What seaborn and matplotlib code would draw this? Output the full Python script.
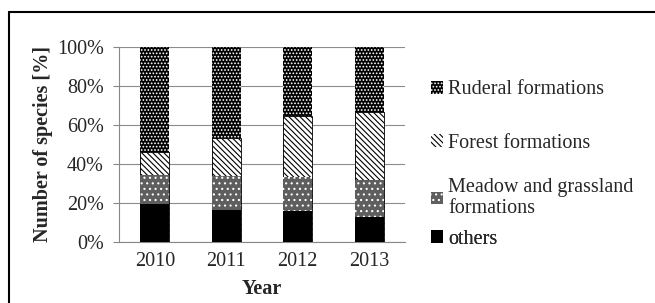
import matplotlib
matplotlib.use('Agg')
import matplotlib.pyplot as plt
from matplotlib.patches import Patch
from matplotlib.lines import Line2D
import seaborn as sns
import pandas as pd

# Values (% of species per year)
years = ['2010', '2011', '2012', '2013']
others = [19.5, 16.5, 16, 13]
meadow = [15, 17.5, 17.5, 19]
forest = [11.5, 19.5, 31, 34.5]
ruderal = [54, 46.5, 35.5, 33.5]

layer_names = ['others', 'Meadow and grassland\nformations', 'Forest formations', 'Ruderal formations']

df = pd.DataFrame({'Year': years,
                   layer_names[0]: others,
                   layer_names[1]: meadow,
                   layer_names[2]: forest,
                   layer_names[3]: ruderal})
cum = df[layer_names].cumsum(axis=1)

sns.set_style('white')
plt.rcParams['font.family'] = ['Liberation Serif', 'DejaVu Serif']
plt.rcParams['hatch.linewidth'] = 0.8

# fill styles per layer: facecolor, edgecolor (= hatch colour), hatch, outline width
styles = {
    layer_names[0]: dict(facecolor='black', edgecolor='black', hatch=None, lw=0),
    layer_names[1]: dict(facecolor='#5e5e5e', edgecolor='white', hatch='...', lw=0),
    layer_names[2]: dict(facecolor='white', edgecolor='black', hatch='\\\\\\\\\\\\', lw=0.6),
    layer_names[3]: dict(facecolor='black', edgecolor='white', hatch='.....', lw=0),
}

fig = plt.figure(figsize=(6.55, 3.03), dpi=100)
ax = fig.add_axes([119 / 655, 1 - 242 / 303, 286 / 655, 195 / 303])

# draw the tallest cumulative layer first, smaller ones on top
for name in reversed(layer_names):
    n = len(ax.patches)
    sns.barplot(x=df['Year'], y=cum[name], order=years, color='black',
                width=0.4, ax=ax, zorder=3)
    for p in ax.patches[n:]:
        p.set_facecolor(styles[name]['facecolor'])
        p.set_edgecolor(styles[name]['edgecolor'])
        p.set_linewidth(styles[name]['lw'])
        if styles[name]['hatch']:
            p.set_hatch(styles[name]['hatch'])

ax.set_ylim(0, 100)
ax.set_xlim(-0.5, 3.5)
ax.set_yticks(range(0, 101, 20))
ax.set_yticklabels([f'{v}%' for v in range(0, 101, 20)])
ax.set_xticks(range(4))
ax.set_xticklabels(years)
ax.set_xticks([-0.5, 0.5, 1.5, 2.5, 3.5], minor=True)
ax.tick_params(axis='x', which='major', length=0, labelsize=14.5, pad=7)
ax.tick_params(axis='x', which='minor', length=5, color='#888888', direction='out')
ax.tick_params(axis='y', length=4, color='#888888', labelsize=14.5, left=True, pad=7)
ax.yaxis.grid(True, color='#8c8c8c', linewidth=0.8)
ax.set_axisbelow(True)
for s in ['top', 'right']:
    ax.spines[s].set_visible(False)
for s in ['left', 'bottom']:
    ax.spines[s].set_color('#888888')
    ax.spines[s].set_linewidth(0.8)

ax.set_xlabel('Year', fontsize=14.5, fontweight='bold', labelpad=6)
ax.set_ylabel('Number of species [%]', fontsize=14.5, fontweight='bold', labelpad=3)

# legend entries placed one by one (Excel-like uneven spacing)
legend_y = [90, 143, 198, 239]
for name, y in zip(reversed(layer_names), legend_y):
    st = styles[name]
    h = Patch(facecolor=st['facecolor'], edgecolor=st['edgecolor'], hatch=st['hatch'],
              linewidth=0)
    leg = ax.legend([h], [name], loc='center left',
                    bbox_to_anchor=(431 / 655, 1 - y / 303), bbox_transform=fig.transFigure,
                    frameon=False, fontsize=14.5, handlelength=0.6, handleheight=0.6,
                    handletextpad=0.25, borderpad=0, borderaxespad=0)
    ax.add_artist(leg)

# frame lines around the picture (top and left only are visible)
fig.add_artist(Line2D([9 / 655, 1], [1 - 12 / 303, 1 - 12 / 303], transform=fig.transFigure,
                      color='black', linewidth=1.5))
fig.add_artist(Line2D([9 / 655, 9 / 655], [0, 1 - 12 / 303], transform=fig.transFigure,
                      color='black', linewidth=1.5))

fig.savefig('out.png', dpi=100)
